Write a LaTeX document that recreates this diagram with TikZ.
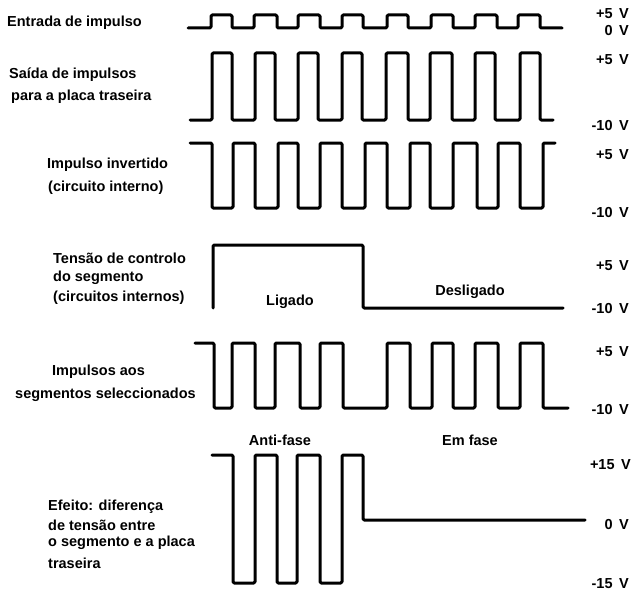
\documentclass[tikz,border=0pt]{standalone}
\usepackage{fontspec}
\setmainfont{Liberation Sans}
\newcommand{\vsp}{\hspace{0.45em}}
\begin{document}
\begin{tikzpicture}[x=1pt,y=-1pt,
  wave/.style={line width=3pt,line join=round,line cap=round,rounded corners=1.2pt},
  lbl/.style={font=\bfseries\fontsize{14.5}{17}\selectfont,anchor=west,inner sep=0pt},
  clbl/.style={font=\bfseries\fontsize{14.5}{17}\selectfont,anchor=center,inner sep=0pt},
  volt/.style={font=\bfseries\fontsize{14.5}{17}\selectfont,anchor=east,inner sep=0pt}]
\useasboundingbox (0,0) rectangle (636,591);

% ---------- left labels ----------
\node[lbl] (l1) at (7,23) {Entrada de impulso};
\node[lbl] (l2a) at (9,75) {Saída de impulsos};
\node[lbl] (l2b) at (11,97) {para a placa traseira};
\node[lbl] (l3a) at (47,165) {Impulso invertido};
\node[lbl] (l3b) at (48,188) {(circuito interno)};
\node[lbl] (l4a) at (53,258) {Tensão de controlo};
\node[lbl] (l4b) at (53,278) {do segmento};
\node[lbl] (l4c) at (53,298) {(circuitos internos)};
\node[lbl] (l5a) at (52,372) {Impulsos aos};
\node[lbl] (l5b) at (15,395) {segmentos seleccionados};
\node[lbl] (l6a) at (48,507) {Efeito: diferença};
\node[lbl] (l6b) at (48,525) {de tensão entre};
\node[lbl] (l6c) at (48,543) {o segmento e a placa};
\node[lbl] (l6d) at (48,563) {traseira};

% ---------- inner labels ----------
\node[clbl] (lig) at (290,302) {Ligado};
\node[clbl] (des) at (470,292) {Desligado};
\node[clbl] (anti) at (280,440) {Anti-fase};
\node[clbl] (emf) at (470,440) {Em fase};

% ---------- voltage labels ----------
\node[volt] (v1) at (629,14) {+5\vsp V};
\node[volt] (v2) at (629,31) {0\vsp V};
\node[volt] (v3) at (629,60) {+5\vsp V};
\node[volt] (v4) at (629,126) {-10\vsp V};
\node[volt] (v5) at (629,155) {+5\vsp V};
\node[volt] (v6) at (629,213) {-10\vsp V};
\node[volt] (v7) at (629,266) {+5\vsp V};
\node[volt] (v8) at (629,309) {-10\vsp V};
\node[volt] (v9) at (629,352) {+5\vsp V};
\node[volt] (v10) at (629,410) {-10\vsp V};
\node[volt] (v11) at (631,465) {+15\vsp V};
\node[volt] (v12) at (629,525) {0\vsp V};
\node[volt] (v13) at (629,584) {-15\vsp V};

% ---------- waveform 1: input pulse ----------
\draw[wave] (188,28)
  -- (211,28) -- (211,15) -- (232,15) -- (232,28)
  -- (254,28) -- (254,15) -- (277,15) -- (277,28)
  -- (298,28) -- (298,15) -- (320,15) -- (320,28)
  -- (342,28) -- (342,15) -- (363,15) -- (363,28)
  -- (387,28) -- (387,15) -- (408,15) -- (408,28)
  -- (431,28) -- (431,15) -- (453,15) -- (453,28)
  -- (475,28) -- (475,15) -- (497,15) -- (497,28)
  -- (518,28) -- (518,15) -- (540,15) -- (540,28)
  -- (562,28);

% ---------- waveform 2: output to backplate ----------
\draw[wave] (190,120)
  -- (212,120) -- (212,53) -- (232,53) -- (232,120)
  -- (255,120) -- (255,53) -- (275,53) -- (275,120)
  -- (298,120) -- (298,53) -- (318,53) -- (318,120)
  -- (342,120) -- (342,53) -- (362,53) -- (362,120)
  -- (386,120) -- (386,53) -- (408,53) -- (408,120)
  -- (430,120) -- (430,53) -- (452,53) -- (452,120)
  -- (475,120) -- (475,53) -- (495,53) -- (495,120)
  -- (520,120) -- (520,53) -- (540,53) -- (540,120)
  -- (553,120);

% ---------- waveform 3: inverted pulse ----------
\draw[wave] (190,143)
  -- (212,143) -- (212,208) -- (233,208) -- (233,143)
  -- (255,143) -- (255,208) -- (278,208) -- (278,143)
  -- (298,143) -- (298,208) -- (320,208) -- (320,143)
  -- (342,143) -- (342,208) -- (365,208) -- (365,143)
  -- (387,143) -- (387,208) -- (410,208) -- (410,143)
  -- (430,143) -- (430,208) -- (453,208) -- (453,143)
  -- (477,143) -- (477,208) -- (498,208) -- (498,143)
  -- (520,143) -- (520,208) -- (543,208) -- (543,143)
  -- (555,143);

% ---------- waveform 4: segment control ----------
\draw[wave] (213,308) -- (213,245) -- (363,245) -- (363,308) -- (563,308);

% ---------- waveform 5: pulses to selected segments ----------
\draw[wave] (195,343)
  -- (214,343) -- (214,408) -- (232,408) -- (232,343)
  -- (255,343) -- (255,408) -- (275,408) -- (275,343)
  -- (300,343) -- (300,408) -- (320,408) -- (320,343)
  -- (343,343) -- (343,408) -- (387,408) -- (387,343)
  -- (410,343) -- (410,408) -- (432,408) -- (432,343)
  -- (453,343) -- (453,408) -- (475,408) -- (475,343)
  -- (498,343) -- (498,408) -- (520,408) -- (520,343)
  -- (543,343) -- (543,408) -- (568,408);

% ---------- waveform 6: effect ----------
\draw[wave] (212,455)
  -- (233,455) -- (233,583) -- (255,583) -- (255,455)
  -- (277,455) -- (277,583) -- (297,583) -- (297,455)
  -- (320,455) -- (320,583) -- (342,583) -- (342,455)
  -- (363,455) -- (363,520) -- (585,520);
\end{tikzpicture}
\end{document}
